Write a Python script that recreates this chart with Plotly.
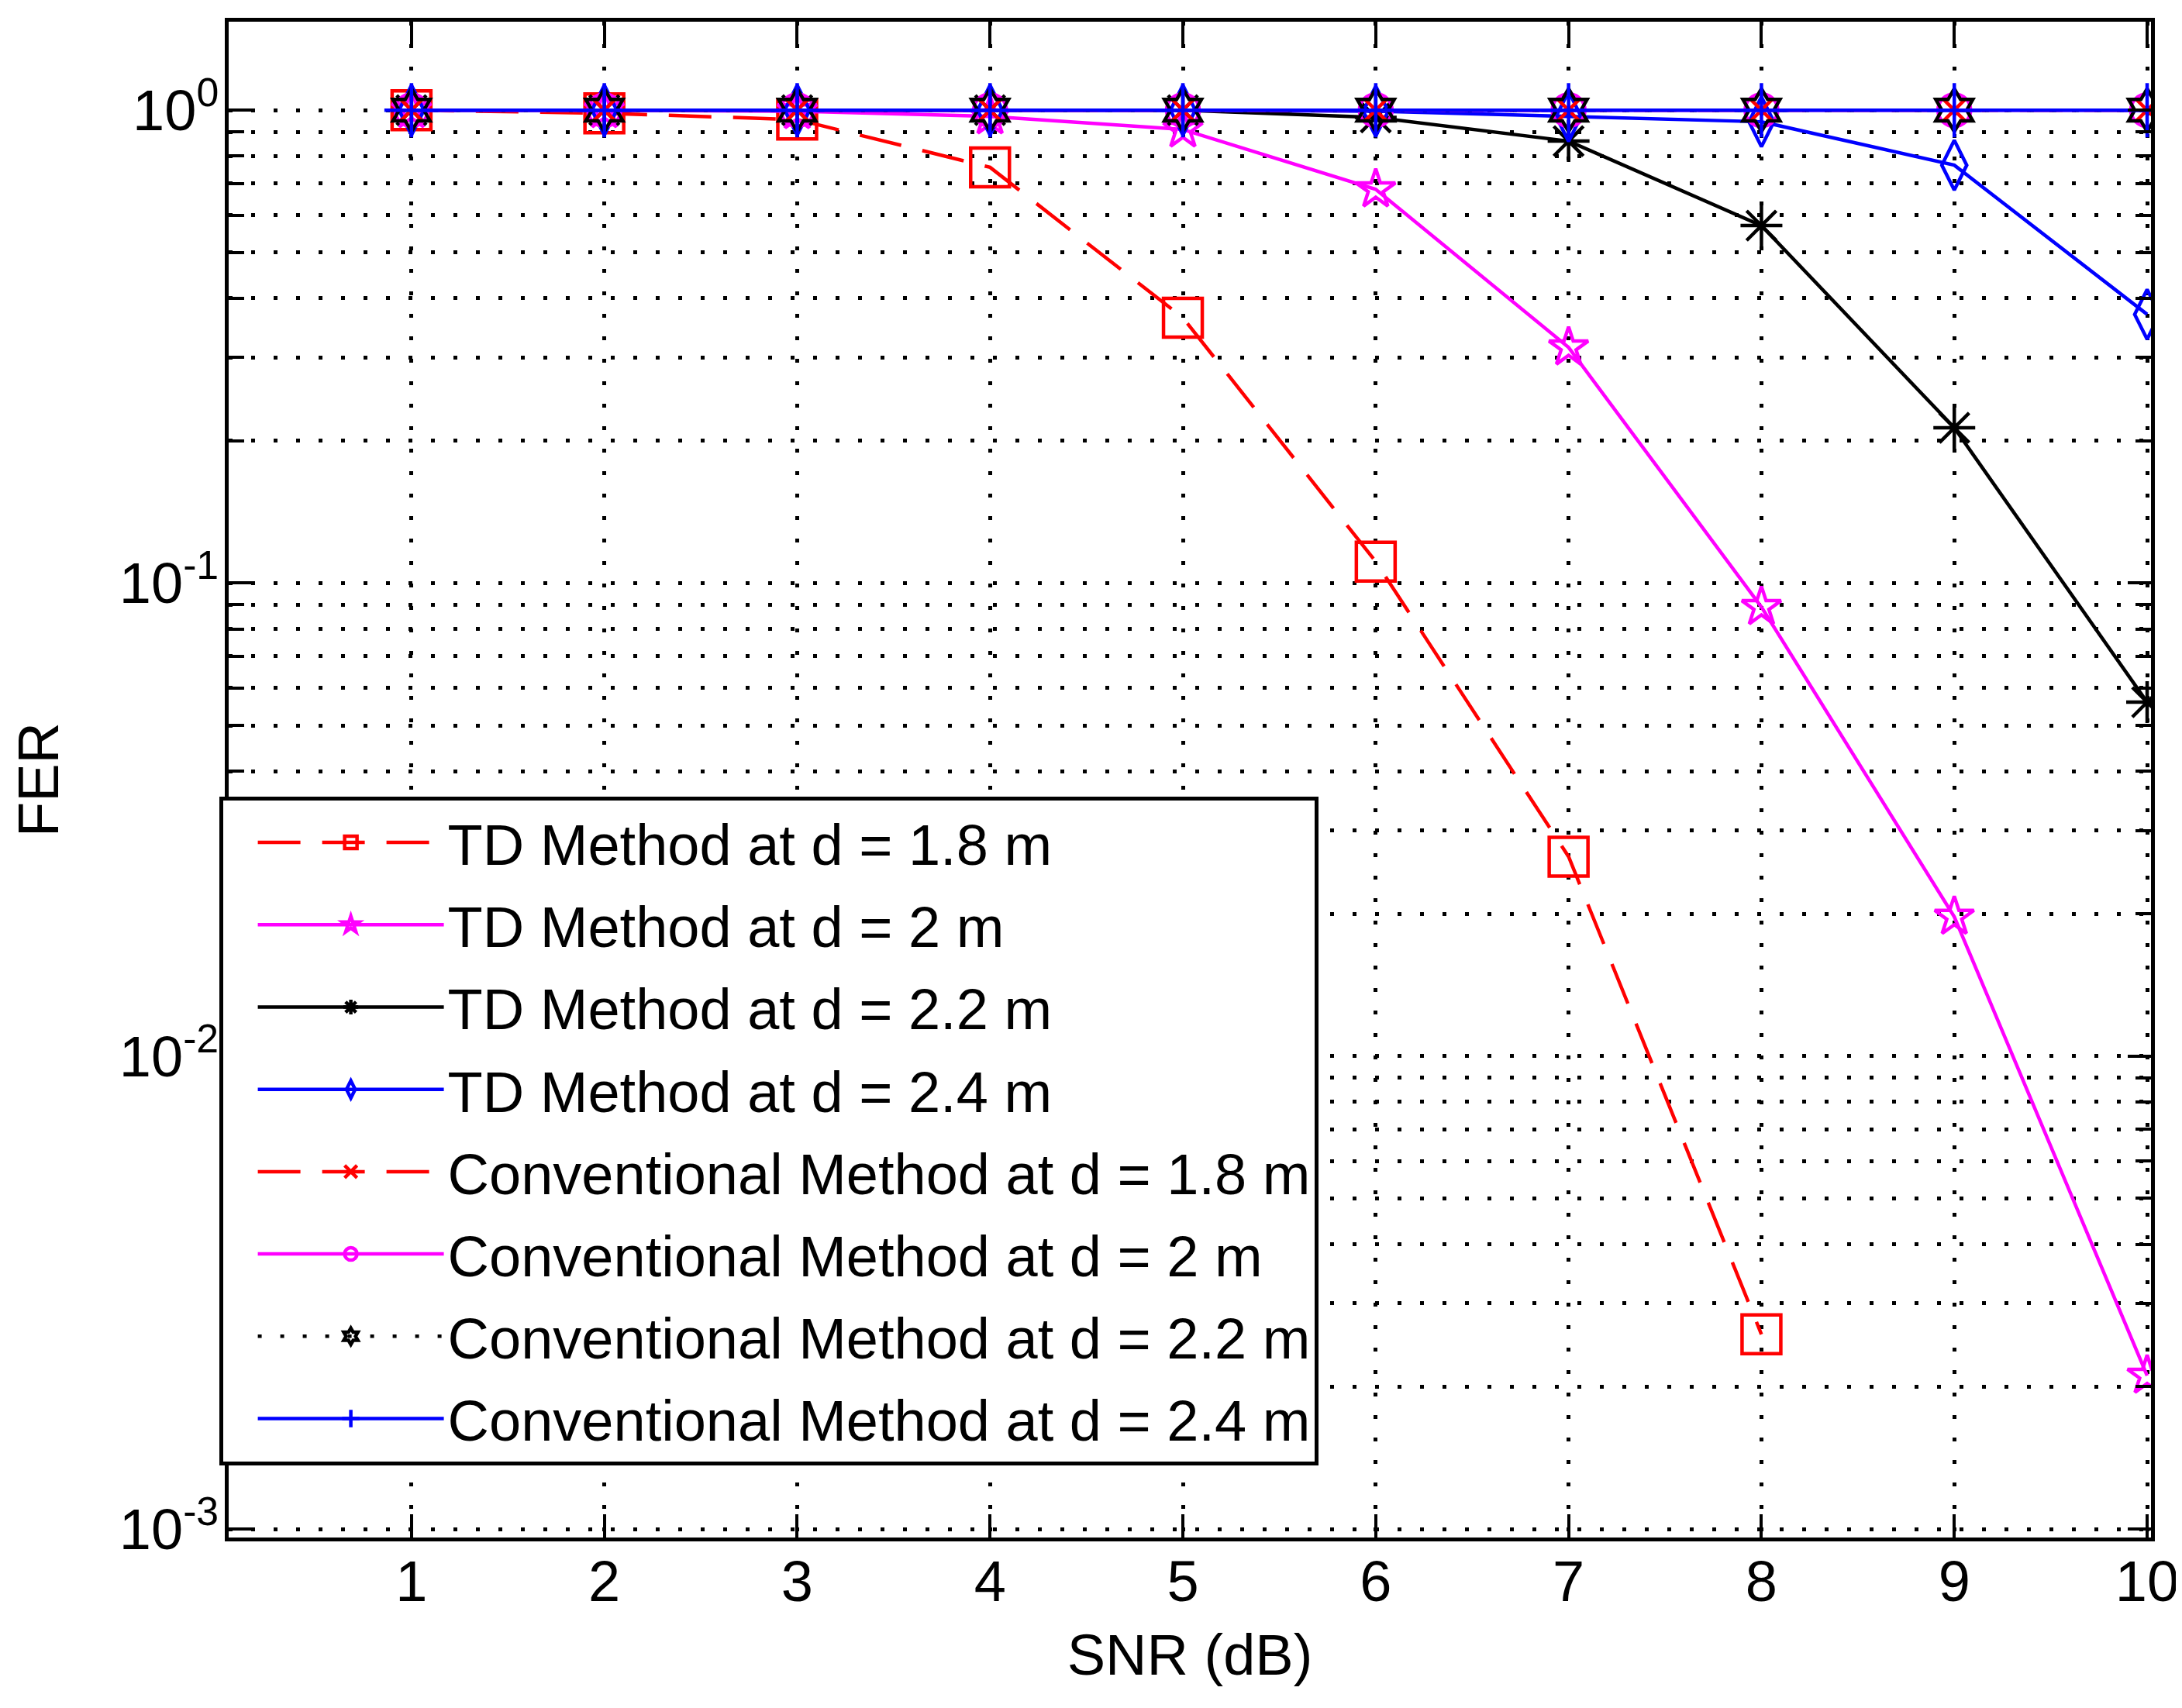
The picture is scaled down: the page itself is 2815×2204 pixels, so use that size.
import plotly.graph_objects as go

# SNR axis and FER values
snr = [1, 2, 3, 4, 5, 6, 7, 8, 9, 10]

fer_td_18 = [1.0, 0.985, 0.955, 0.757, 0.364, 0.111, 0.0264, 0.00258]
fer_td_20 = [1.0, 1.0, 0.995, 0.97, 0.91, 0.68, 0.315, 0.089, 0.0197, 0.00211]
fer_td_22 = [1.0, 1.0, 1.0, 1.0, 1.0, 0.965, 0.86, 0.57, 0.213, 0.056]
fer_td_24 = [1.0, 1.0, 1.0, 1.0, 1.0, 0.995, 0.97, 0.945, 0.765, 0.37]

fer_conv_18 = [1.0] * 10
fer_conv_20 = [1.0] * 10
fer_conv_22 = [1.0] * 10
fer_conv_24 = [1.0] * 10

y_tickvals = [1e-3, 1e-2, 1e-1, 1e0]
y_ticktext = ["10<sup>-3</sup>", "10<sup>-2</sup>", "10<sup>-1</sup>", "10<sup>0</sup>"]
y_minor = [m * 10.0 ** e for e in (-3, -2, -1) for m in range(2, 10)]

FONT = "Liberation Sans, Arial, sans-serif"
RED, MAG, BLK, BLU = "#ff0000", "#ff00ff", "#000000", "#0000ff"
LW = 4.5

series = [
    ("TD Method at d = 1.8 m", fer_td_18, RED, "55px,28px", "square-open", 50),
    ("TD Method at d = 2 m", fer_td_20, MAG, "solid", "star-open", 38),
    ("TD Method at d = 2.2 m", fer_td_22, BLK, "solid", "asterisk-open", 45),
    ("TD Method at d = 2.4 m", fer_td_24, BLU, "solid", "diamond-tall-open", 46),
    ("Conventional Method at d = 1.8 m", fer_conv_18, RED, "55px,28px", "x-thin-open", 30),
    ("Conventional Method at d = 2 m", fer_conv_20, MAG, "solid", "circle-open", 42),
    ("Conventional Method at d = 2.2 m", fer_conv_22, BLK, "5px,24px", "hexagram-open", 42),
    ("Conventional Method at d = 2.4 m", fer_conv_24, BLU, "solid", "cross-thin-open", 50),
]

fig = go.Figure()
for i, (name, vals, col, dash, sym, size) in enumerate(series):
    fig.add_trace(go.Scatter(
        x=snr[:len(vals)], y=vals, name=name, mode="lines+markers",
        legendgroup=str(i),
        line=dict(color=col, width=LW, dash=dash),
        marker=dict(symbol=sym, size=size, color=col, line=dict(color=col, width=LW)),
    ))

axis_common = dict(
    showline=True, linecolor="black", linewidth=5, mirror="allticks",
    ticks="inside", tickcolor="black", tickwidth=4, ticklen=30,
    showgrid=True, gridcolor="black", gridwidth=5, griddash="5px,24px",
    zeroline=False, tickfont=dict(family=FONT, size=74, color="black"),
)

fig.update_xaxes(
    **axis_common, range=[0.052, 10.02], tickvals=snr, ticklabelstandoff=-12,
    title=dict(text="SNR (dB)", font=dict(family=FONT, size=74, color="black"), standoff=30),
)
fig.update_yaxes(
    **axis_common, type="log", range=[-3.018, 0.187],
    tickvals=y_tickvals, ticktext=y_ticktext, ticklabelstandoff=-7,
    minor=dict(tickvals=y_minor, ticks="inside", ticklen=20, tickwidth=4, tickcolor="black",
               showgrid=True, gridcolor="black", gridwidth=5, griddash="5px,24px"),
    title=dict(text="FER", font=dict(family=FONT, size=74, color="black"), standoff=60),
)

fig.update_layout(
    width=2815, height=2204,
    margin=dict(l=287, r=45, t=20, b=228),
    paper_bgcolor="white", plot_bgcolor="white",
    font=dict(family=FONT, size=74, color="black"),
    legend=dict(
        x=-0.005, y=0.489, xanchor="left", yanchor="top",
        bgcolor="white", bordercolor="black", borderwidth=5,
        font=dict(family=FONT, size=74, color="black"),
        traceorder="grouped", tracegroupgap=7, itemwidth=240,
        indentation=40,
    ),
)

fig.write_html("out.html")
